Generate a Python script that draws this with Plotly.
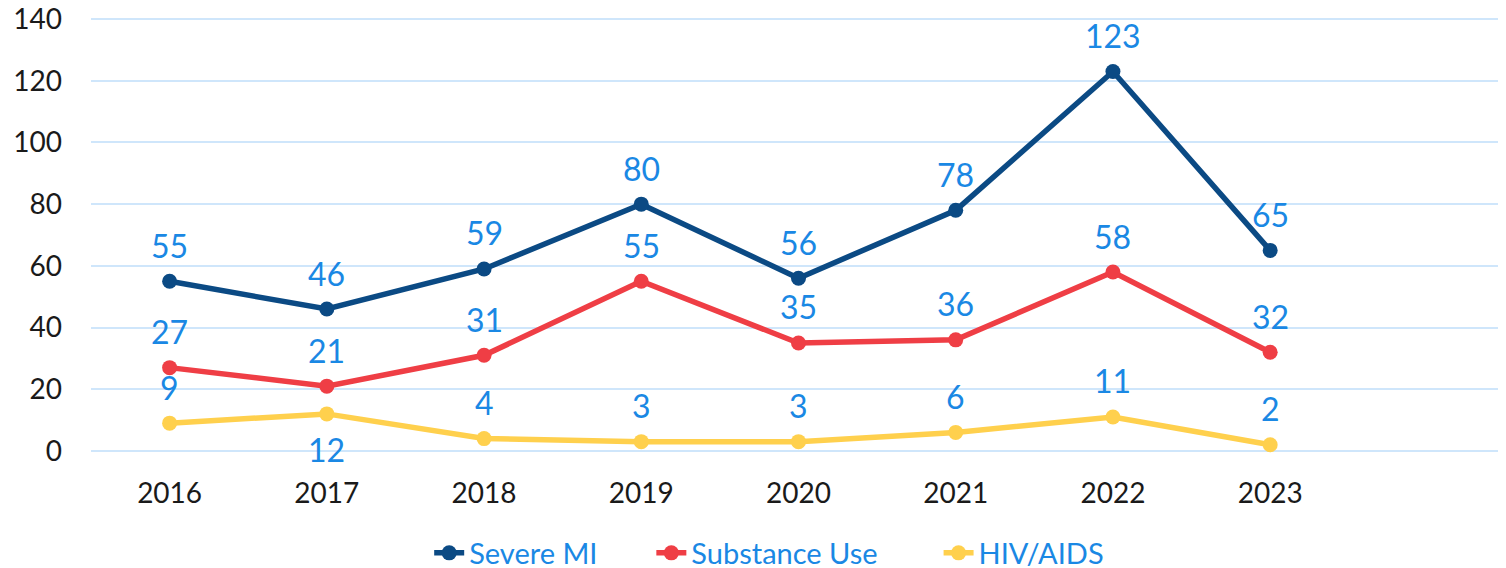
import plotly.graph_objects as go

years = ["2016", "2017", "2018", "2019", "2020", "2021", "2022", "2023"]
severe_mi = [55, 46, 59, 80, 56, 78, 123, 65]
substance_use = [27, 21, 31, 55, 35, 36, 58, 32]
hiv_aids = [9, 12, 4, 3, 3, 6, 11, 2]
hiv_label_below = [False, True, False, False, False, False, False, False]
y_ticks = [0, 20, 40, 60, 80, 100, 120, 140]

FONT = "Lato"
LABEL_BLUE = "#1a88e4"
series = [
    ("Severe MI", severe_mi, "#0b4a84", None),
    ("Substance Use", substance_use, "#ef3e45", None),
    ("HIV/AIDS", hiv_aids, "#ffd04d", hiv_label_below),
]
legend_x = [0.239, 0.396, 0.599]  # paper-x of each legend entry

xs = list(range(len(years)))
fig = go.Figure()
annotations = []
legends = {}
for k, (name, vals, color, below) in enumerate(series):
    lname = "legend" if k == 0 else f"legend{k+1}"
    fig.add_trace(go.Scatter(
        x=xs, y=vals, name=name, mode="lines+markers",
        line=dict(color=color, width=5.5),
        marker=dict(color=color, size=15),
        legend=lname,
    ))
    legends[lname] = dict(
        x=legend_x[k], xanchor="left", y=-0.226, yanchor="middle",
        font=dict(family=FONT, size=29, color=LABEL_BLUE),
        bgcolor="rgba(0,0,0,0)", itemwidth=30,
    )
    for i, v in enumerate(vals):
        shift = -36 if (below and below[i]) else 36
        annotations.append(dict(
            x=xs[i], y=v, xref="x", yref="y", text=str(v), showarrow=False,
            yshift=shift, font=dict(family=FONT, size=32, color=LABEL_BLUE),
        ))

fig.update_layout(
    width=1506, height=568,
    margin=dict(l=83, r=8, t=8, b=122, autoexpand=False),
    paper_bgcolor="white", plot_bgcolor="white",
    font=dict(family=FONT, size=28, color="#1a1a1a"),
    annotations=annotations,
    showlegend=True,
    **legends,
)
fig.update_xaxes(
    range=[-0.5, 8.5], tickmode="array", tickvals=xs, ticktext=years,
    showgrid=False, zeroline=False, showline=False, ticks="",
    ticklabelstandoff=20, ticklabeloverflow="allow",
    tickfont=dict(family=FONT, size=28, color="#1a1a1a"),
)
fig.update_yaxes(
    range=[-1, 141], tickmode="array", tickvals=y_ticks,
    showgrid=True, gridcolor="#cfe6fb", gridwidth=2, zeroline=False,
    showline=False, ticks="", ticklabelstandoff=28, ticklabeloverflow="allow",
    tickfont=dict(family=FONT, size=28, color="#1a1a1a"),
)
fig.write_html("out.html")
